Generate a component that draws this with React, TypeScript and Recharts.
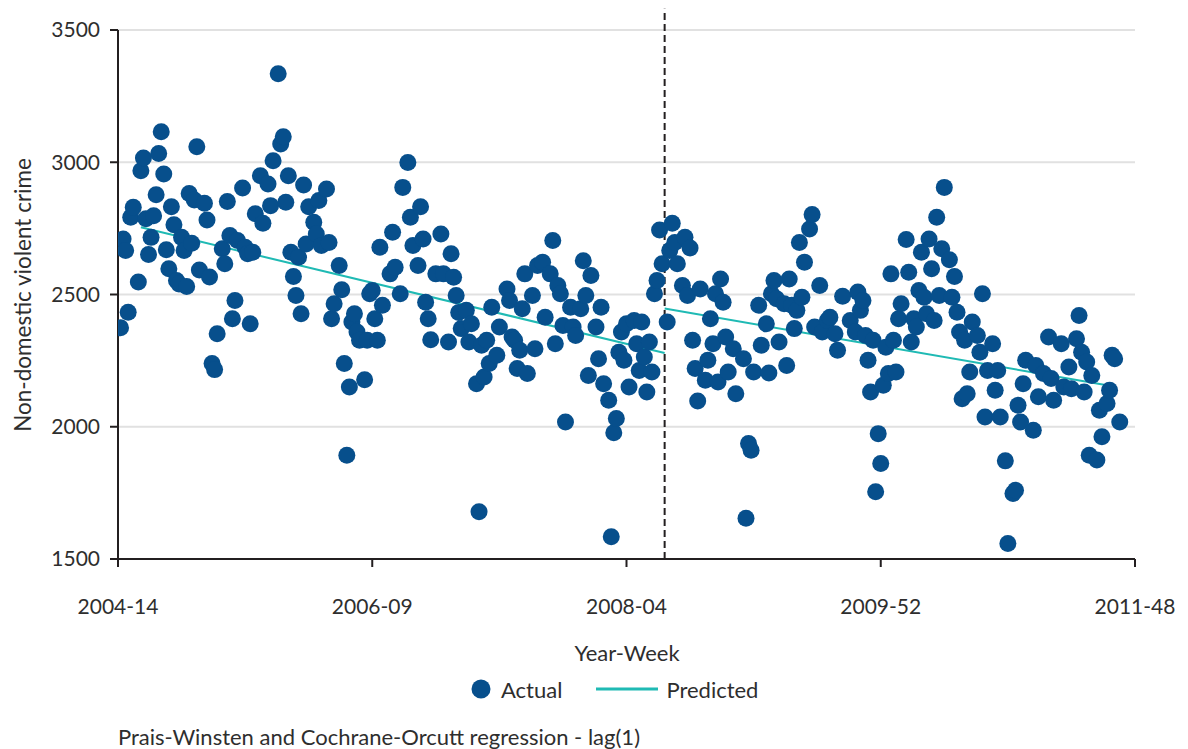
import {
  ComposedChart,
  Scatter,
  Line,
  XAxis,
  YAxis,
  CartesianGrid,
  ReferenceLine,
} from "recharts";

const BLUE = "#074f8c";
const TEAL = "#1fbab4";
const INK = "#231f20";
const TEXT = "#2e2e2e";
const FONT = "Lato, 'Open Sans', sans-serif";

// week ticks (index from 2004-14)
const TICK_WEEKS = [0, 100, 200, 300, 400];
const TICK_LABELS = ["2004-14", "2006-09", "2008-04", "2009-52", "2011-48"];
const Y_TICKS = [1500, 2000, 2500, 3000, 3500];

// weekly actual counts, index = week number; null where a dot is hidden under its neighbours
const ACTUAL: (number | null)[] = [
  null, 2374, 2710, 2666, 2433, 2792, 2830, null, 2547, 2968,
  3016, 2786, 2651, 2716, 2798, 2877, 3033, 3115, 2956, 2669,
  2597, 2832, 2764, 2553, 2540, 2716, 2666, 2530, 2882, 2694,
  2857, 3059, 2593, null, 2845, 2782, 2566, 2239, 2216, 2352,
  null, 2673, 2616, 2852, 2723, 2408, 2477, 2704, null, 2903,
  2679, 2654, 2389, 2660, 2805, null, 2949, 2769, null, 2918,
  2836, 3006, null, 3335, 3069, 3096, 2849, 2949, 2660, 2568,
  2496, 2641, 2427, 2914, 2691, 2832, null, 2773, 2729, 2855,
  2685, null, 2899, 2697, 2408, 2465, null, 2610, 2518, 2239,
  1892, 2150, 2396, 2427, 2358, 2327, null, 2178, 2327, 2503,
  2515, 2408, 2327, 2679, 2459, null, null, 2578, 2735, 2603,
  null, 2503, 2905, null, 2999, 2792, 2685, null, 2610, 2832,
  2710, 2471, 2408, 2329, null, 2578, null, 2729, 2578, null,
  2320, 2654, 2565, 2496, 2432, 2371, null, 2440, 2320, 2389,
  null, 2163, 1679, 2308, 2188, 2327, 2239, 2452, null, 2270,
  2377, null, null, 2521, 2477, 2339, 2327, 2220, 2289, 2446,
  2578, 2201, null, 2496, 2295, 2610, null, 2622, 2414, null,
  2578, 2704, 2314, 2534, 2503, 2383, 2018, null, 2452, 2377,
  2345, null, 2446, 2628, 2496, 2194, 2572, null, 2377, 2257,
  2452, 2163, null, 2100, 1584, 1977, 2031, 2282, 2358, 2251,
  2389, 2150, null, 2402, 2314, 2213, 2396, 2264, 2131, 2320,
  2207, 2503, 2553, 2744, 2616, null, 2396, 2666, 2769, 2697,
  2616, null, 2534, 2716, 2496, 2676, 2327, 2220, 2097, 2521,
  null, 2176, 2251, 2408, 2314, 2503, 2169, 2559, 2471, 2339,
  2207, null, 2295, 2125, null, null, 2257, 1654, 1937, 1911,
  2207, null, 2459, 2308, null, 2389, 2203, 2503, 2553, 2484,
  2320, null, 2465, 2232, 2559, 2459, 2371, 2440, 2697, 2490,
  2622, null, 2748, 2802, 2377, null, 2534, 2358, null, 2402,
  2414, null, 2352, 2289, null, 2493, null, null, 2402, null,
  2358, 2509, 2440, 2477, 2345, 2251, 2131, 2327, 1754, 1974,
  1861, 2157, 2301, 2201, 2578, 2327, 2207, 2408, 2465, null,
  2708, 2584, 2320, 2408, 2377, 2515, 2660, 2490, 2427, 2710,
  2597, 2402, 2792, 2496, 2673, 2905, null, 2631, 2490, 2568,
  2433, 2358, 2106, 2327, 2125, 2207, 2396, null, 2345, 2282,
  2503, 2037, 2213, null, 2314, 2138, 2213, 2037, null, 1871,
  1559, null, 1748, 1760, 2081, 2018, 2163, 2251, null, null,
  1987, 2232, 2113, null, 2201, null, 2339, 2182, 2100, null,
  null, 2314, 2150, null, 2226, 2144, null, 2333, 2421, 2282,
  2131, 2245, 1892, 2194, null, 1874, 2062, 1962, null, 2088,
  2138, 2270, 2257, null, 2018,
];

// predicted trend, read at the ends of each segment (either side of the break)
const PRED_BEFORE_WEEKS = [9, 215];
const PRED_BEFORE = [2754, 2279];
const PRED_AFTER_WEEKS = [215, 389];
const PRED_AFTER = [2447, 2157];
const BREAK_WEEK = 215;

const actualData = ACTUAL.flatMap((value, week) =>
  value == null ? [] : [{ week, value }]
);
const predBefore = PRED_BEFORE_WEEKS.map((week, i) => ({ week, value: PRED_BEFORE[i] }));
const predAfter = PRED_AFTER_WEEKS.map((week, i) => ({ week, value: PRED_AFTER[i] }));

const tickStyle = { fontSize: 21, fontFamily: FONT, fill: TEXT };
const axisLine = { stroke: INK, strokeWidth: 2 };

const Dot = (p: any) => <circle cx={p.cx} cy={p.cy} r={8.5} fill={BLUE} />;

export default function App() {
  return (
    <div style={{ position: "relative", width: 1188, height: 749, overflow: "hidden", fontFamily: FONT, color: TEXT }}>
      <style>{"body{margin:0}"}</style>
      <ComposedChart
        width={1188}
        height={749}
        margin={{ top: 30, right: 53, bottom: 150, left: 38 }}
      >
        <CartesianGrid horizontal vertical={false} stroke="#e1e1e1" strokeWidth={2} />
        <XAxis
          type="number"
          dataKey="week"
          domain={[0, 400]}
          ticks={TICK_WEEKS}
          tickFormatter={(w: number) => TICK_LABELS[TICK_WEEKS.indexOf(w)]}
          tick={tickStyle}
          tickSize={8}
          tickMargin={32}
          height={40}
          axisLine={axisLine}
          tickLine={axisLine}
          allowDataOverflow
        />
        <YAxis
          type="number"
          domain={[1500, 3500]}
          ticks={Y_TICKS}
          tick={tickStyle}
          tickSize={8}
          tickMargin={10}
          width={80}
          axisLine={axisLine}
          tickLine={axisLine}
          allowDataOverflow
        />
        <Line
          data={predBefore}
          dataKey="value"
          type="linear"
          stroke={TEAL}
          strokeWidth={2}
          dot={false}
          activeDot={false}
          isAnimationActive={false}
        />
        <Line
          data={predAfter}
          dataKey="value"
          type="linear"
          stroke={TEAL}
          strokeWidth={2}
          dot={false}
          activeDot={false}
          isAnimationActive={false}
        />
        <Scatter data={actualData} dataKey="value" shape={Dot} isAnimationActive={false} />
        <ReferenceLine
          segment={[
            { x: BREAK_WEEK, y: 1500 },
            { x: BREAK_WEEK, y: 3580 },
          ]}
          ifOverflow="visible"
          stroke={INK}
          strokeWidth={2}
          strokeDasharray="7 4"
        />
      </ComposedChart>

      {/* y axis title */}
      <div
        style={{
          position: "absolute",
          left: 22,
          top: 295,
          transform: "translate(-50%, -50%) rotate(-90deg)",
          whiteSpace: "nowrap",
          fontSize: 22.5,
        }}
      >
        Non-domestic violent crime
      </div>

      {/* x axis title */}
      <div style={{ position: "absolute", left: 627, top: 652, transform: "translate(-50%, -50%)", fontSize: 22 }}>
        Year-Week
      </div>

      {/* legend */}
      <div style={{ position: "absolute", left: 471, top: 676, height: 26, display: "flex", alignItems: "center", fontSize: 22 }}>
        <svg width={20} height={20}>
          <circle cx={10} cy={10} r={9.5} fill={BLUE} />
        </svg>
        <span style={{ marginLeft: 10 }}>Actual</span>
        <svg width={62} height={6} style={{ marginLeft: 34 }}>
          <line x1={0} y1={3} x2={62} y2={3} stroke={TEAL} strokeWidth={3} />
        </svg>
        <span style={{ marginLeft: 8 }}>Predicted</span>
      </div>

      {/* footnote */}
      <div style={{ position: "absolute", left: 118, top: 723, fontSize: 22, whiteSpace: "nowrap" }}>
        Prais-Winsten and Cochrane-Orcutt regression - lag(1)
      </div>
    </div>
  );
}
